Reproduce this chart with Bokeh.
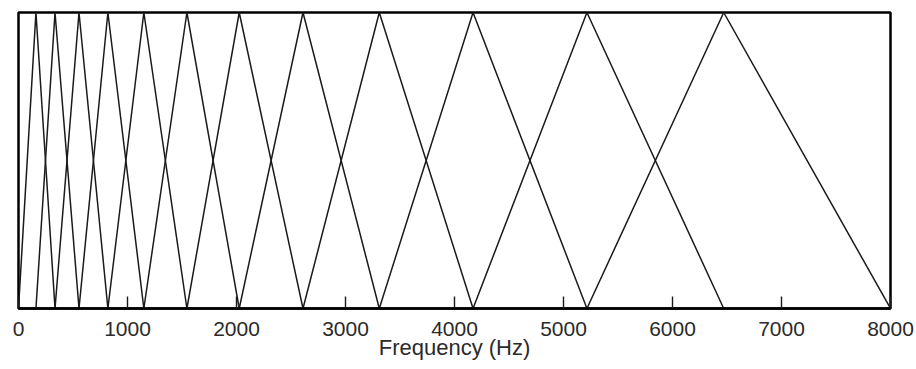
from bokeh.plotting import figure
from bokeh.models import FixedTicker, ColumnDataSource, Range1d
from bokeh.embed import file_html
from bokeh.resources import INLINE

# Band edges of the triangular filterbank (Hz); filter k spans edges[k]..edges[k+2]
band_edges = [0, 160, 335, 555, 820, 1150, 1545, 2025, 2610, 3310, 4170, 5215, 6470, 8000]
peak_gain = 1.0
tick_values = [0, 1000, 2000, 3000, 4000, 5000, 6000, 7000, 8000]

xs, ys = [], []
for k in range(len(band_edges) - 2):
    lo, mid, hi = band_edges[k], band_edges[k + 1], band_edges[k + 2]
    xs.append([lo, mid, hi])
    ys.append([0.0, peak_gain, 0.0])

src = ColumnDataSource(dict(xs=xs, ys=ys))

p = figure(
    width=916, height=369,
    x_range=Range1d(0, 8000), y_range=Range1d(0, peak_gain),
    output_backend="svg", toolbar_location=None,
    min_border_left=18, min_border_right=26, min_border_top=12, min_border_bottom=61,
)

p.multi_line(xs="xs", ys="ys", source=src, line_color="#1a1a1a", line_width=1.5)

p.grid.visible = False
p.yaxis.visible = False
p.outline_line_color = "black"
p.outline_line_width = 2.5
p.outline_line_alpha = 1.0

ax = p.xaxis[0]
ax.ticker = FixedTicker(ticks=tick_values)
ax.minor_tick_line_color = None
ax.major_tick_in = 12
ax.major_tick_out = 0
ax.major_tick_line_color = "#1a1a1a"
ax.major_tick_line_width = 1.4
ax.axis_line_color = "black"
ax.axis_line_width = 2.5
ax.major_label_text_font = "Liberation Sans"
ax.major_label_text_font_size = "21px"
ax.major_label_text_color = "#2a2a2a"
ax.major_label_standoff = 13
ax.axis_label = "Frequency (Hz)"
ax.axis_label_text_font = "Liberation Sans"
ax.axis_label_text_font_size = "22px"
ax.axis_label_text_font_style = "normal"
ax.axis_label_text_color = "#2a2a2a"
ax.axis_label_standoff = -4

p.background_fill_color = "white"
p.border_fill_color = "white"

open("out.html", "w").write(file_html(p, INLINE))
